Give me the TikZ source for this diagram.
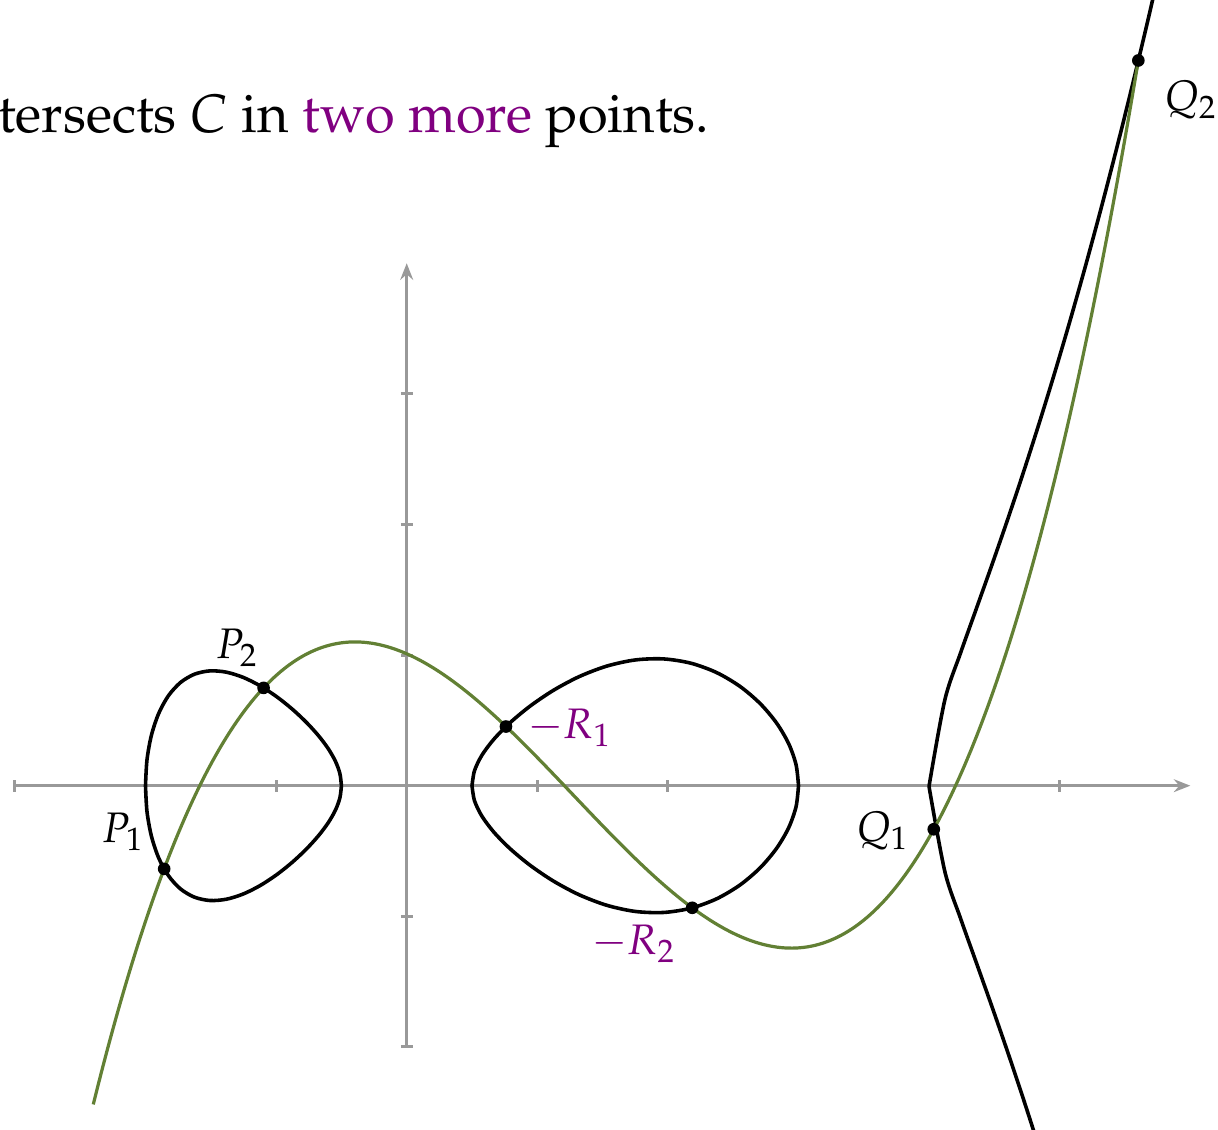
\documentclass[tikz,border=0pt]{standalone}
\usepackage[T1]{fontenc}
\usepackage{mathpazo}
\usetikzlibrary{arrows.meta}
\definecolor{axisgray}{RGB}{153,153,153}
\definecolor{cubicgreen}{RGB}{98,128,52}
\definecolor{labelpurple}{RGB}{128,0,128}
\begin{document}
\begin{tikzpicture}[x=1cm,y=1cm,
  declare function={F(\x)=(\x+2)*(\x*\x-0.25)*(\x-3)*(\x-4)/32;
                    G(\x)=0.12564*\x*\x*\x-0.48061*\x*\x-0.43953*\x+1.01;},
  axisline/.style={axisgray, line width=0.65pt},
  curveC/.style={black, line width=0.78pt, line join=round, line cap=round},
  cubic/.style={cubicgreen, line width=0.7pt},
  ptdot/.style={circle, fill=black, inner sep=0pt, minimum size=0.097cm},
  lbl/.style={font=\fontsize{9.3}{11}\selectfont, inner sep=0pt},
  plbl/.style={lbl, text=labelpurple}]
\useasboundingbox (-3.1141,-2.6363) rectangle (6.2121,6.0161);
\clip (-3.1141,-2.6363) rectangle (6.2121,6.0161);
% axes
\draw[axisline, -{Stealth[length=3.6pt,width=2.8pt,inset=1.2pt]}] (-3,0) -- (6,0);
\draw[axisline, -{Stealth[length=3.6pt,width=2.8pt,inset=1.2pt]}] (0,-2) -- (0,4);
\foreach \i in {-3,-2,-1,1,2,3,4,5} \draw[axisline] (\i,-0.045) -- (\i,0.045);
\foreach \j in {-2,-1,1,2,3} \draw[axisline] (-0.045,\j) -- (0.045,\j);
% curve C: two ovals and the unbounded branch
\draw[curveC] plot[domain=0:180, samples=19, smooth]
    ({-1.25-0.75*cos(\x)}, {sqrt(max(F(-1.25-0.75*cos(\x)),0))})
  -- plot[domain=180:360, samples=19, smooth]
    ({-1.25-0.75*cos(\x)}, {-sqrt(max(F(-1.25-0.75*cos(\x)),0))}) -- cycle;
\draw[curveC] plot[domain=0:180, samples=19, smooth]
    ({1.75-1.25*cos(\x)}, {sqrt(max(F(1.75-1.25*cos(\x)),0))})
  -- plot[domain=180:360, samples=19, smooth]
    ({1.75-1.25*cos(\x)}, {-sqrt(max(F(1.75-1.25*cos(\x)),0))}) -- cycle;
\draw[curveC] plot[domain=4.96:4, samples=9, smooth] (\x, {-sqrt(max(F(\x),0))})
  -- plot[domain=4:5.8, samples=16, smooth] (\x, {sqrt(max(F(\x),0))});
% cubic
\draw[cubic] plot[domain=-2.4:5.602, samples=140, smooth] (\x, {G(\x)});
% points
\node[ptdot] (P1) at (-1.857,-0.637) {};
\node[ptdot] (P2) at (-1.096,0.749) {};
\node[ptdot] (mR1) at (0.760,0.453) {};
\node[ptdot] (mR2) at (2.186,-0.935) {};
\node[ptdot] (Q1) at (4.0356,-0.3337) {};
\node[ptdot] (Q2) at (5.602,5.553) {};
% labels
\node[lbl] (lP1) at (-2.168,-0.355) {$P_1$};
\node[lbl] (lP2) at (-1.296,1.054) {$P_2$};
\node[plbl] (lR1) at (1.250,0.442) {$-R_1$};
\node[plbl] (lR2) at (1.740,-1.211) {$-R_2$};
\node[lbl] (lQ1) at (3.645,-0.347) {$Q_1$};
\node[lbl] (lQ2) at (6.005,5.250) {$Q_2$};
% text
\node[anchor=base east, font=\fontsize{11.8}{14}\selectfont, inner sep=0pt] (caption) at (2.325,5.0)
  {tersects $C$ in \textcolor{labelpurple}{two more} points.};
\end{tikzpicture}
\end{document}
